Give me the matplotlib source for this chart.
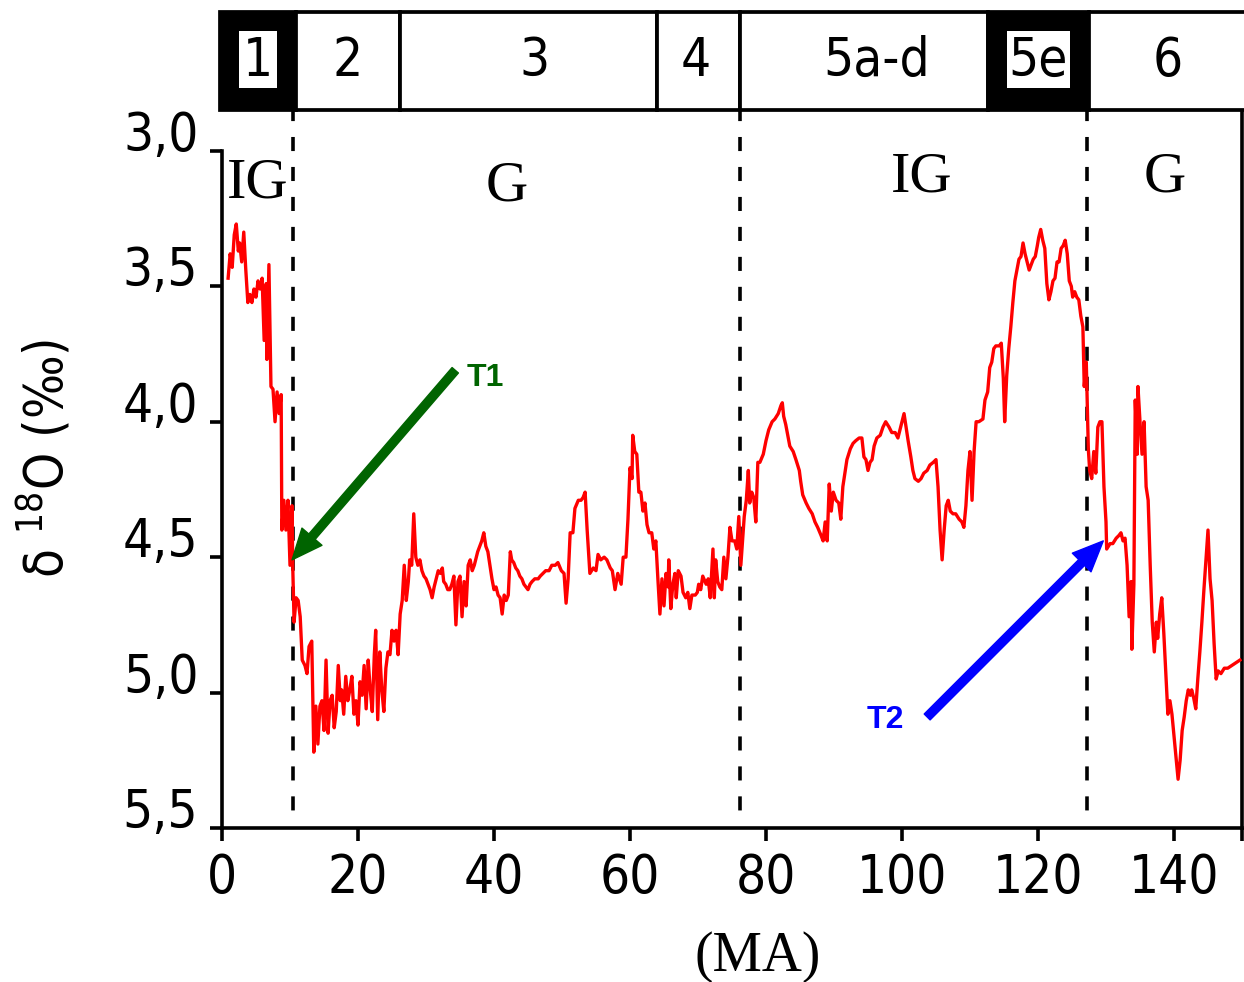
import matplotlib
matplotlib.use("Agg")
import matplotlib.pyplot as plt
from matplotlib import font_manager
from matplotlib.patches import Rectangle

available = {f.name for f in font_manager.fontManager.ttflist}
NARROW = "Liberation Sans Narrow" if "Liberation Sans Narrow" in available else "DejaVu Sans"
plt.rcParams["font.family"] = [NARROW, "DejaVu Sans"]
plt.rcParams["font.stretch"] = "condensed"
plt.rcParams["mathtext.default"] = "regular"

# age (ka) and delta 18O
AGE = [
    0.9, 1.2, 1.5, 1.8, 2.1, 2.4, 2.6, 2.9, 3.2, 3.5,
    3.8, 4.1, 4.4, 4.7, 5.0, 5.3, 5.6, 5.9, 6.2, 6.5,
    6.6, 6.9, 7.2, 7.5, 7.8, 8.1, 8.4, 8.7, 8.8, 9.1,
    9.4, 9.7, 10.0, 10.3, 10.4,
    10.6, 10.9, 11.2, 11.5, 11.8, 12.2, 12.5, 12.8, 13.2, 13.5,
    13.8, 14.1, 14.4, 14.7, 15.0, 15.3, 15.6, 15.9, 16.2, 16.5,
    16.8, 17.1, 17.4, 17.6, 17.9, 18.2, 18.5, 18.8, 19.1, 19.4,
    19.7, 20.0, 20.3, 20.6, 20.9, 21.2, 21.5, 21.8, 22.1, 22.4,
    22.6, 22.9, 23.2, 23.5, 23.8, 24.1, 24.4, 24.7, 25.0, 25.3,
    25.6, 25.9, 26.2, 26.5, 26.8, 27.1, 27.4, 27.6, 27.9, 28.2,
    28.5, 28.8, 29.1, 29.4, 29.7, 30.0, 30.3, 30.6, 30.9, 31.2,
    31.5, 31.8, 32.1, 32.4, 32.6, 32.9, 33.2, 33.5, 33.8, 34.1,
    34.4, 34.7, 35.0, 35.3, 35.6, 35.9, 36.2, 36.5, 36.8, 37.1,
    37.4, 37.6, 37.9, 38.2, 38.5, 38.8, 39.1, 39.4, 39.7, 40.0,
    40.3, 40.6, 40.9, 41.2, 41.5, 41.8, 42.1, 42.4, 42.6, 42.9,
    43.2, 43.5, 43.8, 44.1, 44.4, 44.7, 45.0, 45.3, 45.6, 46.0,
    46.5, 46.8, 47.2, 47.6, 48.1, 48.5, 49.0, 49.4, 49.9,
    50.3, 50.6, 50.9, 51.2, 51.6, 51.9, 52.4, 52.8, 53.1, 53.4,
    53.7, 54.1, 54.6, 55.0, 55.3, 55.7, 56.2, 56.6, 57.1, 57.4,
    57.8, 58.2, 58.7, 59.0, 59.4, 59.7, 60.0, 60.3, 60.4, 60.7,
    61.0, 61.3, 61.6, 61.9, 62.2, 62.5, 62.8, 63.2, 63.5, 63.8,
    64.1, 64.4, 64.7, 65.0, 65.3, 65.6, 65.7, 66.0, 66.3, 66.6,
    66.8, 67.1, 67.5, 67.8, 68.2, 68.5, 68.8, 69.1, 69.6, 69.9,
    70.1, 70.4, 70.7, 71.2, 71.5, 71.8, 72.2, 72.4, 72.6, 72.9,
    73.2, 73.5, 73.8, 74.1, 74.4, 74.7, 75.0, 75.4, 75.7, 76.0,
    76.3, 76.8, 77.1, 77.4, 77.6, 77.9, 78.2, 78.5, 78.8,
    79.1, 79.6, 80.0, 80.4, 80.9, 81.3, 81.8, 82.2, 82.4, 82.6,
    82.9, 83.2, 83.5, 84.0, 84.4, 84.9, 85.1, 85.4, 85.9, 86.3,
    86.8, 87.2, 87.6, 88.1, 88.4, 88.7, 89.0, 89.3, 89.6, 89.9,
    90.3, 90.7, 91.0, 91.3, 91.6, 91.9, 92.4, 92.8, 93.2, 93.7,
    94.1, 94.4, 94.7, 95.0, 95.3, 95.6, 95.9, 96.3, 96.8, 97.2,
    97.6, 98.1, 98.5, 99.0, 99.4, 99.7, 100.0, 100.3, 100.6, 100.9,
    101.3, 101.6, 101.9, 102.4, 102.8, 103.2, 103.7, 104.1, 104.6, 105.0,
    105.3, 105.6, 105.9, 106.2, 106.5, 106.8, 107.1, 107.5, 107.9, 108.4,
    108.8, 109.1, 109.4, 109.7, 110.0, 110.3, 110.6, 110.9, 111.3, 111.9,
    112.2, 112.6, 112.9, 113.2, 113.5, 113.8, 114.3, 114.6, 114.9, 115.1,
    115.4, 115.7, 116.0, 116.3, 116.6, 116.9, 117.2, 117.5, 117.8, 118.1,
    118.4, 118.7, 119.0, 119.3, 119.6, 119.9, 120.1, 120.4, 120.7, 121.0,
    121.3, 121.6, 121.9, 122.2, 122.5, 122.8, 123.1, 123.4, 123.7, 124.0,
    124.3, 124.6, 124.9, 125.1, 125.4, 125.7, 126.0, 126.3, 126.6, 126.8,
    127.1, 127.4, 127.6, 127.9, 128.2, 128.5, 128.8, 129.1, 129.4, 129.7,
    130.0, 130.1, 130.6, 131.0, 131.5, 131.9, 132.2, 132.5, 132.8, 133.1,
    133.4, 133.7, 133.8, 134.1, 134.3, 134.6, 134.7, 135.0, 135.3, 135.6,
    135.9, 136.2, 136.5, 136.8, 137.1, 137.4, 137.6, 137.9, 138.2, 138.5,
    138.8, 139.1, 139.4, 139.7, 140.0, 140.3, 140.6, 140.9, 141.2, 141.5,
    141.8, 142.1, 142.4, 142.6, 142.9, 143.2, 143.5, 143.8, 144.1, 144.4,
    144.7, 145.0, 145.3, 145.6, 145.9, 146.2, 146.5, 146.9, 147.4, 147.9,
    148.5, 149.1, 149.7,
]
D18O = [
    3.47, 3.38, 3.43, 3.31, 3.27, 3.37, 3.34, 3.41, 3.30, 3.44,
    3.56, 3.53, 3.56, 3.51, 3.54, 3.48, 3.51, 3.47, 3.70, 3.49,
    3.77, 3.42, 3.87, 3.88, 4.00, 3.89, 3.97, 3.90, 4.40, 4.29,
    4.40, 4.29, 4.53, 4.31, 4.53,
    4.74, 4.65, 4.66, 4.72, 4.88, 4.90, 4.93, 4.83, 4.81, 5.22,
    5.05, 5.19, 5.05, 5.03, 5.14, 4.88, 5.15, 5.03, 5.01, 5.13,
    5.07, 4.90, 5.03, 4.99, 5.08, 4.94, 5.03, 4.99, 4.94, 5.08,
    5.03, 5.12, 4.96, 5.01, 4.90, 5.06, 4.88, 4.99, 5.07, 4.86,
    4.77, 5.10, 4.85, 4.99, 5.07, 4.91, 4.85, 4.86, 4.77, 4.81,
    4.77, 4.86, 4.71, 4.66, 4.53, 4.66, 4.59, 4.51, 4.53, 4.34,
    4.50, 4.53, 4.51, 4.55, 4.57, 4.58, 4.60, 4.62, 4.65, 4.61,
    4.58, 4.55, 4.56, 4.54, 4.59, 4.60, 4.62, 4.62, 4.60, 4.57,
    4.75, 4.59, 4.57, 4.72, 4.59, 4.68, 4.53, 4.51, 4.55, 4.53,
    4.50, 4.48, 4.46, 4.44, 4.41, 4.46, 4.48, 4.53, 4.58, 4.62,
    4.61, 4.64, 4.65, 4.71, 4.64, 4.66, 4.64, 4.48, 4.51, 4.52,
    4.54, 4.55, 4.57, 4.58, 4.60, 4.61, 4.62, 4.60, 4.59, 4.58,
    4.58, 4.57, 4.56, 4.55, 4.55, 4.53, 4.53, 4.52, 4.55,
    4.56, 4.67, 4.58, 4.41, 4.41, 4.32, 4.29, 4.29, 4.28, 4.26,
    4.40, 4.56, 4.54, 4.55, 4.49, 4.51, 4.50, 4.51, 4.54, 4.55,
    4.62, 4.56, 4.60, 4.50, 4.50, 4.36, 4.17, 4.21, 4.05, 4.11,
    4.12, 4.26, 4.26, 4.33, 4.30, 4.38, 4.41, 4.41, 4.47, 4.44,
    4.58, 4.71, 4.58, 4.68, 4.56, 4.61, 4.51, 4.69, 4.60, 4.56,
    4.65, 4.55, 4.57, 4.63, 4.65, 4.63, 4.69, 4.64, 4.64, 4.63,
    4.60, 4.62, 4.57, 4.60, 4.58, 4.65, 4.47, 4.65, 4.51, 4.59,
    4.61, 4.62, 4.50, 4.58, 4.50, 4.39, 4.44, 4.44, 4.47, 4.35,
    4.53, 4.35, 4.29, 4.18, 4.30, 4.26, 4.28, 4.37, 4.15,
    4.15, 4.12, 4.07, 4.03, 4.00, 3.99, 3.97, 3.94, 3.93, 3.98,
    4.01, 4.05, 4.09, 4.11, 4.14, 4.18, 4.22, 4.27, 4.30, 4.32,
    4.34, 4.37, 4.39, 4.42, 4.44, 4.37, 4.44, 4.23, 4.33, 4.26,
    4.29, 4.30, 4.36, 4.24, 4.19, 4.14, 4.10, 4.08, 4.07, 4.06,
    4.06, 4.13, 4.14, 4.18, 4.15, 4.14, 4.09, 4.06, 4.05, 4.02,
    4.00, 4.02, 4.04, 4.04, 4.06, 4.03, 4.00, 3.97, 4.02, 4.07,
    4.13, 4.18, 4.21, 4.22, 4.21, 4.19, 4.18, 4.16, 4.15, 4.14,
    4.24, 4.40, 4.51, 4.40, 4.31, 4.29, 4.33, 4.34, 4.34, 4.36,
    4.37, 4.39, 4.31, 4.18, 4.11, 4.29, 4.11, 4.00, 4.00, 3.99,
    3.92, 3.89, 3.80, 3.78, 3.73, 3.72, 3.72, 3.71, 3.84, 4.00,
    3.83, 3.73, 3.65, 3.56, 3.48, 3.44, 3.40, 3.39, 3.34, 3.38,
    3.41, 3.44, 3.42, 3.40, 3.39, 3.35, 3.32, 3.29, 3.33, 3.36,
    3.49, 3.55, 3.52, 3.48, 3.47, 3.41, 3.41, 3.36, 3.35, 3.33,
    3.38, 3.48, 3.50, 3.54, 3.52, 3.54, 3.55, 3.61, 3.65, 3.87,
    3.78, 4.10, 4.18, 4.21, 4.11, 4.19, 4.02, 4.00, 4.00, 4.24,
    4.37, 4.47, 4.45, 4.45, 4.43, 4.42, 4.41, 4.44, 4.43, 4.53,
    4.72, 4.59, 4.84, 4.60, 3.92, 4.12, 3.87, 4.00, 4.12, 4.00,
    4.24, 4.29, 4.53, 4.74, 4.85, 4.74, 4.80, 4.71, 4.65, 4.78,
    4.93, 5.08, 5.03, 5.08, 5.16, 5.24, 5.32, 5.25, 5.14, 5.09,
    5.03, 4.99, 5.01, 4.99, 5.02, 5.06, 4.95, 4.85, 4.74, 4.62,
    4.51, 4.40, 4.58, 4.66, 4.82, 4.95, 4.92, 4.93, 4.91, 4.91,
    4.90, 4.89, 4.88,
]

YTICKS = [3.0, 3.5, 4.0, 4.5, 5.0, 5.5]
YTICK_LABELS = ["3,0", "3,5", "4,0", "4,5", "5,0", "5,5"]
XTICKS = [0, 20, 40, 60, 80, 100, 120, 140]

STAGE_NAMES = ["1", "2", "3", "4", "5a-d", "5e", "6"]
STAGE_EDGES = [0, 10.9, 26.2, 64.0, 76.2, 112.6, 127.5, 150]
STAGE_LABEL_X = [5.3, 18.5, 46.0, 69.6, 96.3, 120.0, 139.1]
BLACK_STAGES = ["1", "5e"]

TRANSITIONS = [10.4, 76.2, 127.2]
PERIODS = ["IG", "G", "IG", "G"]
PERIOD_X = [5.3, 41.9, 102.9, 138.7]
PERIOD_Y = [3.12, 3.13, 3.10, 3.10]

GREEN = "#006400"
BLUE = "#0000ff"

W, H = 1244, 982
fig = plt.figure(figsize=(W / 100, H / 100), dpi=100)

# main plot
ax = fig.add_axes([222 / W, 1 - 828 / H, 1020 / W, 721 / H])
ax.plot(AGE, D18O, color="#ff0000", lw=2.4, zorder=3)
ax.set_xlim(0, 150)
ax.set_ylim(5.5, 2.838)

for x in TRANSITIONS:
    ax.plot([x, x], [2.838, 5.46], color="black", lw=2.6,
            linestyle=(0, (3.9, 4.4)), zorder=2)

for name, x, y in zip(PERIODS, PERIOD_X, PERIOD_Y):
    ax.text(x, y, name, ha="center", va="center", fontsize=42,
            family="Liberation Serif", fontstretch="normal")

ax.spines["top"].set_visible(False)
ax.spines["left"].set_bounds(3.0, 5.5)
for s in ["left", "right", "bottom"]:
    ax.spines[s].set_linewidth(2.6)

ax.set_yticks(YTICKS)
ax.set_yticklabels(YTICK_LABELS)
ax.set_xticks(XTICKS)
ax.set_xticks([150], minor=True)
ax.yaxis.set_ticks_position("left")
ax.xaxis.set_ticks_position("bottom")
ax.tick_params(which="both", direction="out", length=9, width=2.6,
               labelsize=38, pad=8)
for lab in ax.get_yticklabels():
    lab.set_verticalalignment("baseline")

# arrows T1 / T2
ax.annotate("", xy=(10.3, 4.51), xytext=(34.3, 3.81),
            arrowprops=dict(width=6, headwidth=19, headlength=22, shrink=0,
                            facecolor=GREEN, edgecolor=GREEN))
ax.text(38.7, 3.84, "T1", color=GREEN, fontsize=23, fontweight="bold",
        family="Liberation Sans", fontstretch="normal", ha="center", va="center")
ax.annotate("", xy=(129.6, 4.44), xytext=(103.7, 5.09),
            arrowprops=dict(width=6, headwidth=19, headlength=22, shrink=0,
                            facecolor=BLUE, edgecolor=BLUE))
ax.text(97.6, 5.10, "T2", color=BLUE, fontsize=23, fontweight="bold",
        family="Liberation Sans", fontstretch="normal", ha="center", va="center")

# isotope stage band on top
band = fig.add_axes([220 / W, 1 - 110 / H, 1024 / W, 98 / H])
band.set_xlim(-0.3, 150.3)
band.set_ylim(0, 1)
band.axis("off")
lo, hi = band.get_xlim()
for i, name in enumerate(STAGE_NAMES):
    x0 = lo if i == 0 else STAGE_EDGES[i]
    # last box runs off the right edge of the figure (no closing line)
    x1 = hi + 2 if i == len(STAGE_NAMES) - 1 else STAGE_EDGES[i + 1]
    dark = name in BLACK_STAGES
    band.add_patch(Rectangle((x0, 0), x1 - x0, 1, facecolor="black" if dark else "white",
                             edgecolor="black", lw=2.7, clip_on=False))
    if dark:
        band.add_patch(Rectangle((x0 + 2.8, 0.224), x1 - x0 - 5.6, 0.582,
                                 facecolor="white", edgecolor="none"))
    band.text(STAGE_LABEL_X[i], 0.5, name, ha="center", va="center", fontsize=38)

fig.text(758 / W, 1 - 957 / H, "(MA)", ha="center", va="center", fontsize=40,
         family="Liberation Serif", fontstretch="normal")
fig.text(45 / W, 1 - 458 / H, "δ $^{18}$O (‰)", rotation=90, ha="center",
         va="center", fontsize=38)

fig.savefig("out.png", dpi=100)
